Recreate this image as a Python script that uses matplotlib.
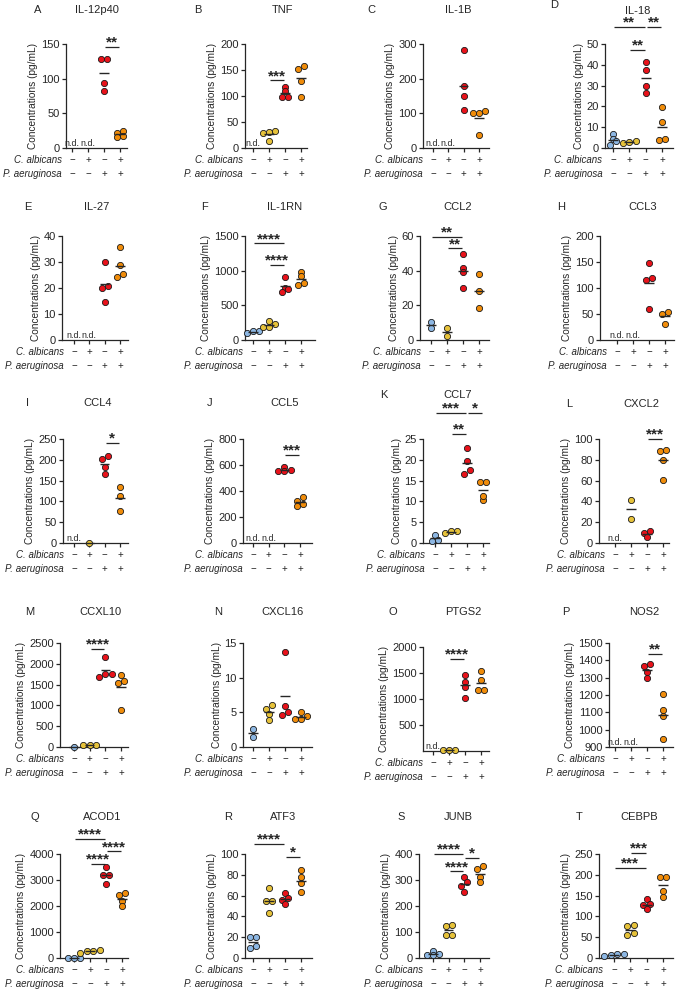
import matplotlib
matplotlib.use("Agg")
import matplotlib.pyplot as plt
import numpy as np
from matplotlib.transforms import blended_transform_factory

plt.rcParams['font.family'] = ['Liberation Sans', 'DejaVu Sans']

# ---------------- data ----------------
ND = None  # not detected
GENES = ["IL-12p40", "TNF", "IL-1B", "IL-18", "IL-27", "IL-1RN", "CCL2", "CCL3",
         "CCL4", "CCL5", "CCL7", "CXCL2", "CCXL10", "CXCL16", "PTGS2", "NOS2",
         "ACOD1", "ATF3", "JUNB", "CEBPB"]
LETTERS = list("ABCDEFGHIJKLMNOPQRST")
CA_SIGNS = ["\u2212", "+", "\u2212", "+"]
PA_SIGNS = ["\u2212", "\u2212", "+", "+"]
GROUP_COLORS = ["#8db7e3", "#e6c23a", "#e8121a", "#f08c0a"]

IL12P40 = [ND, ND, [128, 129, 94, 82], [24, 22, 17, 16]]
TNF = [ND, [33, 29, 30, 14], [118, 109, 98, 99], [152, 157, 129, 99]]
IL1B = [ND, ND, [282, 178, 150, 110], [106, 102, 102, 38]]
IL18 = [[6.5, 4.3, 3.5, 1.6], [3.4, 2.7, 2.3], [41.2, 37.4, 29.8, 26.3], [19.7, 12.6, 3.9, 4.5]]
IL27 = [ND, ND, [30, 20.9, 19.9, 14.8], [35.7, 28.7, 24.2, 25.4]]
IL1RN = [[105, 125, 135], [194, 227, 276, 184], [910, 750, 740, 692], [982, 919, 798, 822]]
CCL2 = [[10.3, 6.8], [7.2, 2.5], [49.4, 41.6, 39.1, 30.2], [38.3, 28.5, 18.4]]
CCL3 = [ND, ND, [148.7, 118.6, 114.7, 59], [54.5, 50.6, 31.4]]
CCL4 = [ND, [0], [202, 208, 183, 166], [135, 114, 78]]
CCL5 = [ND, ND, [582, 564, 551, 551], [326, 354, 287, 300]]
CCL7 = [[2.0, 0.55, 0.8], [2.3, 2.9, 2.8], [22.9, 19.7, 16.6, 17.5], [14.7, 14.7, 10.3, 11.3]]
CXCL2 = [ND, [41.6, 23.2], [11.9, 9.4, 5.5], [88.4, 89.4, 79.7, 60.3]]
CCXL10 = [[0], [40, 48, 56], [2165, 1685, 1765, 1765], [1741, 1581, 1541, 879]]
CXCL16 = [[2.6, 1.4], [5.5, 6.0, 4.8, 3.85], [13.65, 5.87, 4.66, 5.05], [5.0, 4.04, 4.04, 4.4]]
PTGS2 = [ND, [10, 10, 10], [1470, 1330, 1240, 1010], [1530, 1370, 1180, 1180]]
NOS2 = [ND, ND, [1367, 1380, 1334, 1296], [1205, 1114, 1081, 944]]
ACOD1 = [[5, 10, 15], [255, 320, 255, 205], [3500, 3195, 3195, 2850], [2430, 2490, 2210, 1990]]
ATF3 = [[20.5, 20.5, 9.3, 11.9], [67, 54.5, 54.5, 43.3], [62.2, 57.4, 55.8, 51.9], [84.6, 77.6, 71.8, 63.1]]
JUNB = [[25.6, 12.8, 15.4, 10], [122, 126, 87, 90], [310, 291, 278, 254], [344, 353, 310, 291]]
CEBPB = [[6.4, 10.4, 8.8, 4.8], [76, 80, 55, 60], [141, 129, 127, 117], [195, 195, 162, 147]]

DATA = [IL12P40, TNF, IL1B, IL18, IL27, IL1RN, CCL2, CCL3, CCL4, CCL5, CCL7, CXCL2,
        CCXL10, CXCL16, PTGS2, NOS2, ACOD1, ATF3, JUNB, CEBPB]

# significance: (group a, group b, bar height, label)
SIG = [
    [(2, 3, 146, "**")],
    [(1, 2, 130, "***")],
    [],
    [(0, 2, 58.4, "**"), (2, 3, 58.4, "**"), (1, 2, 47.3, "**")],
    [],
    [(0, 2, 1393, "****"), (1, 2, 1079, "****")],
    [(0, 2, 59.6, "**"), (1, 2, 52.8, "**")],
    [],
    [(2, 3, 240, "*")],
    [(2, 3, 677, "***")],
    [(0, 2, 31.3, "***"), (2, 3, 31.3, "*"), (1, 2, 26.3, "**")],
    [(2, 3, 100.3, "***")],
    [(1, 2, 2364, "****")],
    [],
    [(1, 2, 1775, "****")],
    [(2, 3, 1439, "**")],
    [(0, 2, 4575, "****"), (2, 3, 4100, "****"), (1, 2, 3615, "****")],
    [(0, 2, 109.6, "****"), (2, 3, 96.8, "*")],
    [(0, 2, 400, "****"), (2, 3, 385, "*"), (1, 2, 333, "****")],
    [(1, 2, 253, "***"), (0, 2, 217, "***")],
]

YTICKS = [
    [0, 50, 100, 150], [0, 50, 100, 150, 200], [0, 100, 200, 300], [0, 10, 20, 30, 40, 50],
    [0, 10, 20, 30, 40], [0, 500, 1000, 1500], [0, 20, 40, 60], [0, 50, 100, 150, 200],
    [0, 50, 100, 150, 200, 250], [0, 200, 400, 600, 800], [0, 5, 10, 15, 20, 25], [0, 20, 40, 60, 80, 100],
    [0, 500, 1000, 1500, 2000, 2500], [0, 5, 10, 15], [500, 1000, 1500, 2000], [900, 1000, 1100, 1200, 1300, 1400, 1500],
    [0, 1000, 2000, 3000, 4000], [0, 20, 40, 60, 80, 100], [0, 100, 200, 300, 400], [0, 50, 100, 150, 200, 250],
]
YLIMS = [(t[0], t[-1]) for t in YTICKS]
YLIMS[14] = (0, 2000)

# ---------------- layout (pixels) ----------------
W, H = 676, 991
BOX = [  # (axis left, axis right, first category, last category)
    (66, 127, 72, 120), (245, 307, 253, 301), (423, 489, 433, 479), (605, 673, 613, 662),
    (62, 128, 74, 120), (245, 315, 253, 301), (420, 489, 431, 479), (600, 674, 617, 665),
    (63, 128, 74, 120), (243, 312, 253, 300), (423, 489, 435, 483), (599, 669, 615, 663),
    (60, 128, 74, 121), (243, 312, 253, 301), (423, 489, 433, 481), (609, 673, 615, 663),
    (60, 128, 74, 122), (245, 312, 253, 301), (419, 489, 433, 480), (599, 673, 614, 663),
]
ROW_TB = [(44, 148), (236, 340), (439, 543), (643, 747), (854, 958)]
LETTER_X = [38, 198, 371, 554, 28, 205, 383, 561, 27, 210, 384, 569, 30, 218, 393, 566, 35, 228, 401, 579]
TITLE_X = [97, 283, 458, 638, 97, 285, 458, 643, 98, 285, 458, 641, 100, 282, 463, 644, 102, 283, 458, 639]
TITLE_Y = [10, 10, 10, 11, 207, 207, 207, 207, 403, 403, 395, 404, 612, 612, 612, 612, 817, 817, 817, 817]
LETTER_Y = [10, 10, 10, 5, 207, 207, 207, 207, 403, 403, 395, 404, 612, 612, 612, 612, 817, 817, 817, 817]

FS = 7
FS_TICK = 8
FS_TITLE = 8
PT = 0.72  # points per pixel at dpi 100
INK = "#262626"

fig = plt.figure(figsize=(W / 100, H / 100), dpi=100)


def swarm_offsets(vals, px_per_unit, thresh_px=4.0, step=0.4):
    """GraphPad-like horizontal spread of points sharing nearly the same height."""
    v = np.asarray(vals, float)
    order = np.argsort(v, kind="stable")
    sv = v[order]
    offs = np.zeros(len(sv))
    clusters, cur = [], [0]
    for i in range(1, len(sv)):
        if (sv[i] - sv[cur[0]]) * px_per_unit < thresh_px:
            cur.append(i)
        else:
            clusters.append(cur)
            cur = [i]
    clusters.append(cur)
    for c in clusters:
        n = len(c)
        for k, idx in enumerate(c):
            offs[idx] = (k - (n - 1) / 2) * step
    res = np.zeros(len(sv))
    res[order] = offs
    return res


for p in range(20):
    row = p // 4
    left, right, c0, c3 = BOX[p]
    top, bot = ROW_TB[row]
    if p == 14:
        top, bot = 647, 751
    sp = (c3 - c0) / 3.0
    ax = fig.add_axes([left / W, 1 - bot / H, (right - left) / W, (bot - top) / H])
    ax.set_xlim(-(c0 - left) / sp, 3 + (right - c3) / sp)
    ymin, ymax = YLIMS[p]
    ax.set_ylim(ymin, ymax)
    ppu = (bot - top) / (ymax - ymin)

    for s in ["top", "right"]:
        ax.spines[s].set_visible(False)
    for s in ["left", "bottom"]:
        ax.spines[s].set_linewidth(0.9)
        ax.spines[s].set_color(INK)
    ax.set_xticks(range(4))
    ax.set_xticklabels([])
    ax.set_yticks(YTICKS[p])
    ax.set_yticklabels([f"{t:g}" for t in YTICKS[p]])
    ax.tick_params(axis="both", length=3, width=0.9, color=INK, labelsize=FS_TICK,
                   labelcolor=INK, pad=1.5)
    ax.set_ylabel("Concentrations (pg/mL)", fontsize=7.3, color=INK, labelpad=2)

    groups = DATA[p]
    for g in range(4):
        vals = groups[g]
        if vals is None:
            ax.text(g, ymin, "n.d.", ha="center", va="bottom", fontsize=6.4, color=INK)
            continue
        offs = swarm_offsets(vals, ppu)
        ax.scatter(g + offs, vals, s=20, color=GROUP_COLORS[g], edgecolor="#1a1a1a",
                   linewidth=0.6, zorder=3, clip_on=False)
        m = float(np.mean(vals))
        ax.plot([g - 0.3, g + 0.3], [m, m], color=INK, lw=1.0, zorder=4,
                solid_capstyle="butt", clip_on=False)

    for (a, b, yb, lab) in SIG[p]:
        ax.plot([a + 0.06, b - 0.06], [yb, yb], color=INK, lw=0.9, clip_on=False,
                solid_capstyle="butt")
        ax.annotate(lab, xy=((a + b) / 2, yb), xytext=(0, 0.3), textcoords="offset points",
                    ha="center", va="baseline", fontsize=11, fontweight="bold", color=INK,
                    annotation_clip=False)

    trans = blended_transform_factory(ax.transData, ax.transAxes)
    for g in range(4):
        ax.annotate(CA_SIGNS[g], xy=(g, 0), xycoords=trans, xytext=(0, -12 * PT),
                    textcoords="offset points", ha="center", va="center", fontsize=FS, color=INK)
        ax.annotate(PA_SIGNS[g], xy=(g, 0), xycoords=trans, xytext=(0, -26 * PT),
                    textcoords="offset points", ha="center", va="center", fontsize=FS, color=INK)
    ax.annotate("C. albicans", xy=(-0.65, 0), xycoords=trans, xytext=(0, -12 * PT),
                textcoords="offset points", ha="right", va="center", fontsize=FS,
                style="italic", color=INK, annotation_clip=False)
    ax.annotate("P. aeruginosa", xy=(-0.65, 0), xycoords=trans, xytext=(0, -26 * PT),
                textcoords="offset points", ha="right", va="center", fontsize=FS,
                style="italic", color=INK, annotation_clip=False)

    fig.text(TITLE_X[p] / W, 1 - TITLE_Y[p] / H, GENES[p], ha="center", va="center",
             fontsize=FS_TITLE, color=INK)
    fig.text(LETTER_X[p] / W, 1 - LETTER_Y[p] / H, LETTERS[p], ha="center", va="center",
             fontsize=FS_TITLE, color=INK)

fig.savefig("out.png", dpi=100, facecolor="white")
